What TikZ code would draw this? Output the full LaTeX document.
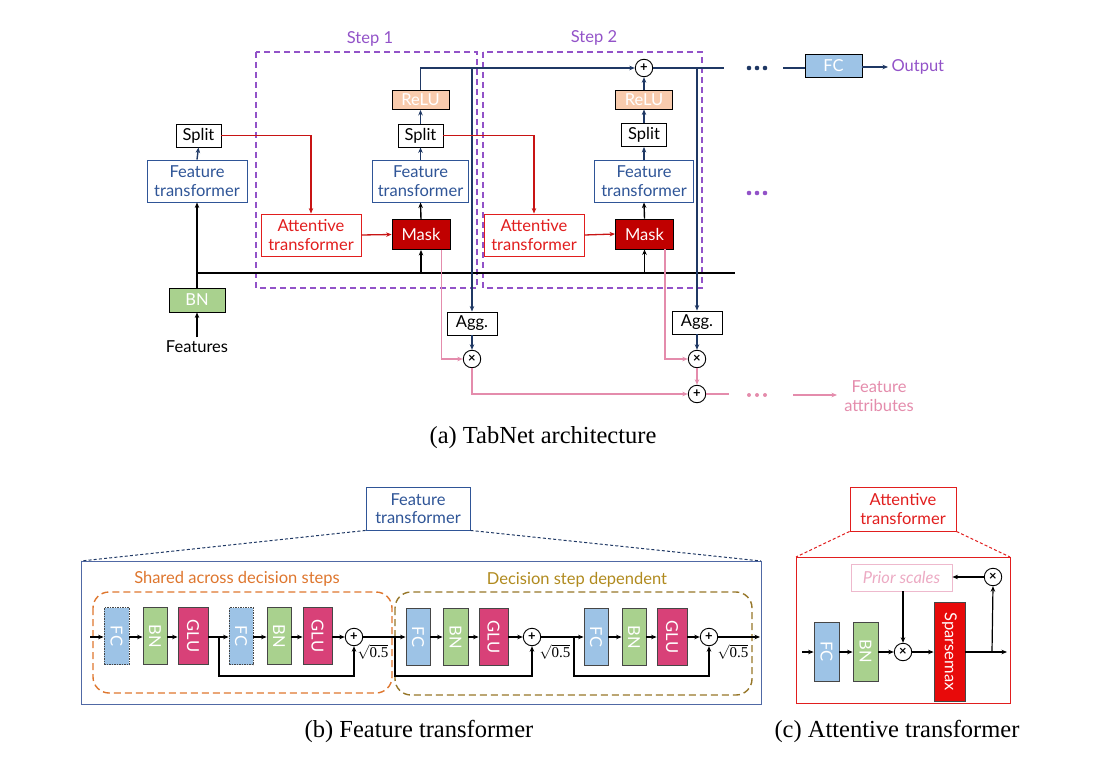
\documentclass[tikz,border=0pt]{standalone}
\usepackage{fontspec}
\setmainfont{Lato}
\newfontfamily\capfont{Liberation Serif}
\usetikzlibrary{arrows.meta,calc}
\definecolor{navy}{RGB}{31,56,100}
\definecolor{ftblue}{RGB}{47,85,151}
\definecolor{stepp}{RGB}{146,82,200}
\definecolor{attred}{RGB}{225,30,30}
\definecolor{arred}{RGB}{200,20,20}
\definecolor{maskred}{RGB}{192,0,0}
\definecolor{relupeach}{RGB}{248,203,173}
\definecolor{fcblue}{RGB}{157,195,230}
\definecolor{bngreen}{RGB}{169,209,142}
\definecolor{glured}{RGB}{216,65,120}
\definecolor{attpink}{RGB}{228,140,172}
\definecolor{shorange}{RGB}{222,118,46}
\definecolor{olive}{RGB}{176,138,30}
\definecolor{olivebox}{RGB}{150,118,40}
\definecolor{sparsered}{RGB}{232,10,10}
\definecolor{priorpink}{RGB}{238,185,205}
\definecolor{priortext}{RGB}{236,170,195}
\definecolor{panelblue}{RGB}{80,105,165}
\definecolor{blkgray}{RGB}{70,70,70}
\newcommand{\sqhalf}{$\sqrt{\hbox{\capfont 0.5}}$}
\begin{document}
\begin{tikzpicture}[x=1pt,y=-1pt,
  font=\fontsize{16.5}{18.5}\selectfont,
  bx/.style={draw, line width=0.9pt, inner sep=0pt, align=center},
  ar/.style={-{Stealth[length=5.5pt,width=4.5pt]}},
  nv/.style={draw=navy, line width=1.4pt},
  bk/.style={draw=black, line width=1.4pt},
  rd/.style={draw=arred, line width=1.3pt},
  pk/.style={draw=attpink, line width=1.3pt},
  opc/.style={circle, draw=black, line width=0.9pt, minimum size=17.5pt, inner sep=0pt, fill=white, font=\bfseries\fontsize{13}{13}\selectfont},
  stepbox/.style={draw=stepp, line width=1.2pt, dash pattern=on 6pt off 4pt},
  ftbox/.style={bx, draw=ftblue, text=ftblue, minimum height=42pt},
  attbox/.style={bx, draw=attred, text=attred, minimum width=100pt, minimum height=42pt},
  maskbox/.style={bx, fill=maskred, text=white!92!pink, minimum width=58pt, minimum height=30pt},
  relubox/.style={bx, fill=relupeach, text=white, minimum width=57pt, minimum height=19pt},
  splitbox/.style={bx, minimum width=45pt, minimum height=23pt},
  layer/.style={draw=blkgray, line width=0.8pt, inner sep=0pt, minimum height=57pt, text=white},
  caption/.style={font=\capfont\fontsize{24.5}{26}\selectfont},
  sqlab/.style={font=\fontsize{15}{15}\selectfont, inner sep=1pt}
]
\useasboundingbox (0,0) rectangle (1117,765);

% ---------------- (a) TabNet architecture ----------------
\node[text=stepp] (s1lab) at (370,39) {Step 1};
\node[text=stepp] (s2lab) at (594,38) {Step 2};
\draw[stepbox] (256,52) rectangle (477,288);
\draw[stepbox] (483,52) rectangle (702,288);

\node (feat) at (197,347) {Features};
\node[bx, fill=bngreen, text=white, minimum width=56pt, minimum height=24pt] (bn0) at (197,300) {BN};
\node[ftbox, minimum width=100pt] (ft0) at (197,181) {Feature\\transformer};
\node[splitbox] (sp0) at (198.5,135.5) {Split};

\node[attbox] (at1) at (311,235) {Attentive\\transformer};
\node[maskbox] (mk1) at (421,234.5) {Mask};
\node[ftbox, minimum width=96pt] (ft1) at (420.5,181) {Feature\\transformer};
\node[splitbox] (sp1) at (420.5,135.5) {Split};
\node[relubox] (rl1) at (420.5,100) {ReLU};

\node[attbox] (at2) at (534,235) {Attentive\\transformer};
\node[maskbox] (mk2) at (644.5,234) {Mask};
\node[ftbox, minimum width=99pt] (ft2) at (644,181) {Feature\\transformer};
\node[splitbox] (sp2) at (644,135) {Split};
\node[relubox] (rl2) at (644,99.5) {ReLU};
\node[opc] (pt) at (644,68) {+};

\node[splitbox, minimum width=50pt] (ag1) at (472,323.5) {Agg.};
\node[splitbox, minimum width=50pt] (ag2) at (697,322.5) {Agg.};
\node[opc] (mx1) at (472,359) {×};
\node[opc] (mx2) at (697,359) {×};
\node[opc] (pb) at (697,394) {+};

\node[bx, fill=fcblue, text=white, minimum width=57pt, minimum height=23pt] (fct) at (833.5,65.5) {FC};
\node[text=stepp, anchor=west] (out) at (888,67) {Output};
\node[text=attpink, align=center] (fa) at (879,396) {Feature\\attributes};

% black bus
\coordinate (busL) at (197,273);
\coordinate (busR) at (735,273);
\draw[bk] (busL) -- (busR);
\draw[bk, ar] (feat.north) -- (bn0.south);
\draw[bk, ar] (bn0.north) -- (ft0.south);
\draw[bk, ar] (mk1.south |- busL) -- (mk1.south);
\draw[bk, ar] (mk2.south |- busL) -- (mk2.south);
\draw[bk, ar] (mk1.north) -- (ft1.south);
\draw[bk, ar] (mk2.north) -- (ft2.south);

% navy flows
\draw[nv, ar] (ft0.north) -- (sp0.south);
\draw[nv, ar] (ft1.north) -- (sp1.south);
\draw[nv, ar] (sp1.north) -- (rl1.south);
\draw[nv, ar] (ft2.north) -- (sp2.south);
\draw[nv, ar] (sp2.north) -- (rl2.south);
\draw[nv, ar] (rl2.north) -- (pt.south);
\draw[nv, ar] (rl1.north) |- (pt.west);
\coordinate (j1) at (472,68);
\coordinate (j2) at (697,68);
\coordinate (tEnd) at (724,68);
\draw[nv] (pt.east) -- (tEnd);
\draw[nv, ar] (j1) -- (ag1.north);
\draw[nv, ar] (j2) -- (ag2.north);
\draw[nv, ar] (ag1.south) -- (mx1.north);
\draw[nv, ar] (ag2.south) -- (mx2.north);
\coordinate (fcIn) at (783,68);
\draw[nv] (fcIn) -- (fct.west |- fcIn);
\draw[nv, ar] (fct.east |- out.west) -- (out.west);
\foreach \dx in {-8,0,8} \fill[navy] (757+\dx,68) circle (2.3pt);
\foreach \dx in {-8,0,8} \fill[stepp] (757+\dx,193) circle (2.3pt);

% red flows
\draw[rd, ar] (sp0.east) -| (at1.north);
\draw[rd, ar] (sp1.east) -| (at2.north);
\draw[rd, ar] (at1.east) -- (mk1.west);
\draw[rd, ar] (at2.east) -- (mk2.west);

% pink flows
\draw[pk, ar] ($(mk1.south east)+(-9,0)$) |- (mx1.west);
\draw[pk, ar] ($(mk2.south east)+(-9,0)$) |- (mx2.west);
\draw[pk, ar] (mx1.south) |- (pb.west);
\draw[pk, ar] (mx2.south) -- (pb.north);
\coordinate (pEnd) at (729,394);
\draw[pk] (pb.east) -- (pEnd);
\foreach \dx in {-8,0,8} \fill[attpink] (757+\dx,395) circle (2pt);
\coordinate (pa1) at (793,395);
\coordinate (pa2) at (837,395);
\draw[pk, ar] (pa1) -- (pa2);

\node[caption] (capa) at (543,438) {(a) TabNet architecture};

% ---------------- (b) Feature transformer ----------------
\node[bx, draw=ftblue, text=ftblue, minimum width=104pt, minimum height=43pt] (ftt) at (418,508.5) {Feature\\transformer};
\draw[draw=panelblue, line width=1pt] (81,561) rectangle (761,704);
\draw[navy, line width=1pt, dash pattern=on 3pt off 2.2pt] (ftt.south west) -- (81,561);
\draw[navy, line width=1pt, dash pattern=on 3pt off 2.2pt] (ftt.south east) -- (761,561);

\node[text=shorange] (shl) at (237,579) {Shared across decision steps};
\node[text=olive] (ddl) at (577,580) {Decision step dependent};
\draw[draw=shorange, line width=1.4pt, dash pattern=on 7pt off 4pt, rounded corners=16pt] (93,592) rectangle (392,693);
\draw[draw=olivebox, line width=1.4pt, dash pattern=on 7pt off 4pt, rounded corners=16pt] (395,592) rectangle (752,695);

\node[layer, fill=fcblue, minimum width=25pt, dash pattern=on 1.5pt off 1pt] (fc1) at (116.5,636) {\rotatebox{-90}{FC}};
\node[layer, fill=bngreen, minimum width=24pt] (bn1) at (155,636) {\rotatebox{-90}{BN}};
\node[layer, fill=glured, minimum width=30pt] (gl1) at (193,636) {\rotatebox{-90}{GLU}};
\node[layer, fill=fcblue, minimum width=24pt, dash pattern=on 1.5pt off 1pt] (fc2) at (241,636) {\rotatebox{-90}{FC}};
\node[layer, fill=bngreen, minimum width=24pt] (bn2) at (279,636) {\rotatebox{-90}{BN}};
\node[layer, fill=glured, minimum width=29pt] (gl2) at (317.5,636) {\rotatebox{-90}{GLU}};
\node[opc] (ps1) at (354,637) {+};

\node[layer, fill=fcblue, minimum width=24pt] (fc3) at (418,637) {\rotatebox{-90}{FC}};
\node[layer, fill=bngreen, minimum width=25pt] (bn3) at (455.5,637) {\rotatebox{-90}{BN}};
\node[layer, fill=glured, minimum width=29pt] (gl3) at (493.5,637) {\rotatebox{-90}{GLU}};
\node[opc] (ps2) at (532,637) {+};
\node[layer, fill=fcblue, minimum width=24pt] (fc4) at (596,637) {\rotatebox{-90}{FC}};
\node[layer, fill=bngreen, minimum width=24pt] (bn4) at (634,637) {\rotatebox{-90}{BN}};
\node[layer, fill=glured, minimum width=30pt] (gl4) at (672,637) {\rotatebox{-90}{GLU}};
\node[opc] (ps3) at (709,637) {+};

\node[sqlab] (sq1) at (373,652) {\sqhalf};
\node[sqlab] (sq2) at (555,652) {\sqhalf};
\node[sqlab] (sq3) at (733,652) {\sqhalf};

\coordinate (inB) at (90,637);
\coordinate (outB) at (760,637);
\draw[bk, line width=1.2pt, ar] (inB) -- (fc1.west |- inB);
\draw[bk, line width=1.2pt, ar] (fc1.east |- inB) -- (bn1.west |- inB);
\draw[bk, line width=1.2pt, ar] (bn1.east |- inB) -- (gl1.west |- inB);
\draw[bk, line width=1.2pt, ar] (gl1.east |- inB) -- (fc2.west |- inB);
\draw[bk, line width=1.2pt, ar] (fc2.east |- inB) -- (bn2.west |- inB);
\draw[bk, line width=1.2pt, ar] (bn2.east |- inB) -- (gl2.west |- inB);
\draw[bk, line width=1.2pt, ar] (gl2.east |- inB) -- (ps1.west);
\draw[bk, line width=1.2pt, ar] (ps1.east) -- (fc3.west |- inB);
\draw[bk, line width=1.2pt, ar] (fc3.east |- inB) -- (bn3.west |- inB);
\draw[bk, line width=1.2pt, ar] (bn3.east |- inB) -- (gl3.west |- inB);
\draw[bk, line width=1.2pt, ar] (gl3.east |- inB) -- (ps2.west);
\draw[bk, line width=1.2pt, ar] (ps2.east) -- (fc4.west |- inB);
\draw[bk, line width=1.2pt, ar] (fc4.east |- inB) -- (bn4.west |- inB);
\draw[bk, line width=1.2pt, ar] (bn4.east |- inB) -- (gl4.west |- inB);
\draw[bk, line width=1.2pt, ar] (gl4.east |- inB) -- (ps3.west);
\draw[bk, line width=1.2pt, ar] (ps3.east) -- (outB);
\coordinate (k1) at (219,637);
\coordinate (k1b) at (219,676);
\coordinate (k2) at (395,637);
\coordinate (k2b) at (395,676);
\coordinate (k3) at (574,637);
\coordinate (k3b) at (574,676);
\draw[bk, line width=1.2pt, ar] (k1) -- (k1b) -| (ps1.south);
\draw[bk, line width=1.2pt, ar] (k2) -- (k2b) -| (ps2.south);
\draw[bk, line width=1.2pt, ar] (k3) -- (k3b) -| (ps3.south);

\node[caption] (capb) at (419,731) {(b) Feature transformer};

% ---------------- (c) Attentive transformer ----------------
\node[bx, draw=attred, text=attred, minimum width=106pt, minimum height=44pt] (att) at (903,509) {Attentive\\transformer};
\draw[draw=attred, line width=1pt] (796,557) rectangle (1010,703);
\draw[attred, line width=1pt, dash pattern=on 3pt off 2.2pt] (att.south west) -- (796,557);
\draw[attred, line width=1pt, dash pattern=on 3pt off 2.2pt] (att.south east) -- (1010,557);

\node[bx, draw=priorpink, text=priortext, minimum width=101pt, minimum height=27pt, font=\itshape\fontsize{16.5}{18}\selectfont] (pri) at (901.5,577.5) {Prior scales};
\node[opc] (xt) at (993,577) {×};
\node[layer, fill=fcblue, minimum width=25pt, minimum height=59pt] (fca) at (826.5,651.5) {\rotatebox{-90}{FC}};
\node[layer, fill=bngreen, minimum width=25pt, minimum height=59pt] (bna) at (865.5,651.5) {\rotatebox{-90}{BN}};
\node[opc] (xm) at (903,652) {×};
\node[layer, fill=sparsered, minimum width=31pt, minimum height=99pt, text=white!90!pink] (spm) at (949.5,651.5) {\rotatebox{-90}{Sparsemax}};

\coordinate (inC) at (802,652);
\coordinate (outC) at (1007,652);
\coordinate (brC) at (992,652);
\draw[bk, line width=1.2pt, ar] (inC) -- (fca.west |- inC);
\draw[bk, line width=1.2pt, ar] (fca.east |- inC) -- (bna.west |- inC);
\draw[bk, line width=1.2pt, ar] (bna.east |- inC) -- (xm.west);
\draw[bk, line width=1.2pt, ar] (xm.east) -- (spm.west |- inC);
\draw[bk, line width=1.2pt, ar] (spm.east |- inC) -- (outC);
\draw[bk, line width=1.2pt, ar] (brC) -- (xt.south);
\draw[bk, line width=1.2pt, ar] (xt.west) -- (pri.east |- xt.west);
\draw[bk, line width=1.2pt, ar] (pri.south -| xm.north) -- (xm.north);

\node[caption] (capc) at (897,731) {(c) Attentive transformer};
\end{tikzpicture}
\end{document}
